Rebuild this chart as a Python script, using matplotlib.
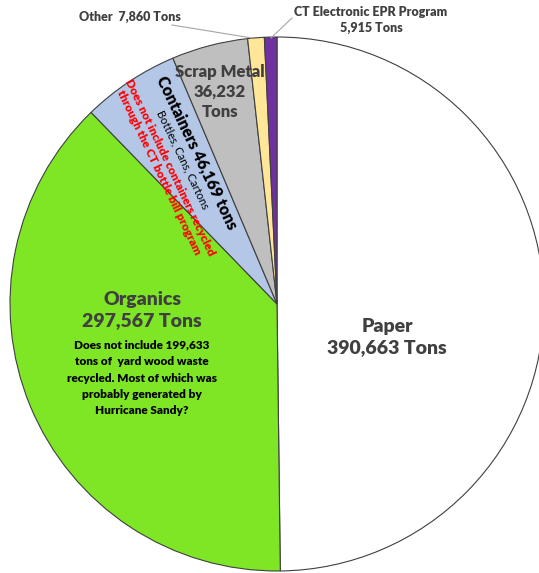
import matplotlib
matplotlib.use("Agg")
import matplotlib.pyplot as plt

# recycled tonnage by category (clockwise from top)
labels = ["Paper", "Organics", "Containers", "Scrap Metal", "Other", "CT Electronic EPR Program"]
tons = [390663, 297567, 46169, 36232, 7860, 5915]
colors = ["#FFFFFF", "#7FE626", "#B4C7E7", "#BFBFBF", "#FFE699", "#7030A0"]

W, H = 539, 573
plt.rcParams['font.family'] = ['Lato', 'DejaVu Sans']

fig = plt.figure(figsize=(W / 100, H / 100), dpi=100)
ax = fig.add_axes([0, 0, 1, 1])

ax.pie(tons, colors=colors, startangle=90, counterclock=False,
       center=(277, H - 304), radius=267,
       wedgeprops=dict(edgecolor="#404040", linewidth=0.8))
ax.set_xlim(0, W)
ax.set_ylim(0, H)
ax.set_aspect("equal")
ax.axis("off")

def y(py):
    return H - py

grey = "#404040"

# Paper
ax.text(387, y(337), "Paper\n390,663 Tons", ha="center", va="center",
        fontsize=14, fontweight="heavy", color=grey, linespacing=1.3)

# Organics
ax.text(142, y(310), "Organics\n297,567 Tons", ha="center", va="center",
        fontsize=14, fontweight="heavy", color=grey, linespacing=1.3)
ax.text(142, y(378), "Does not include 199,633\ntons of  yard wood waste\n"
        "recycled. Most of which was\nprobably generated by\nHurricane Sandy?",
        ha="center", va="center", fontsize=8.5, fontweight="heavy",
        color="black", linespacing=1.6)

# Scrap metal
ax.text(220, y(92), "Scrap Metal\n36,232\nTons", ha="center", va="center",
        fontsize=12, fontweight="heavy", color=grey, linespacing=1.3)

# Containers (rotated along the wedge)
rot = -64.5
ax.text(197, y(153), "Containers 46,169 tons", ha="center", va="center",
        rotation=rot, rotation_mode="anchor", fontsize=11.5,
        fontweight="heavy", color="black")
ax.text(183, y(160), "Bottles, Cans, Cartons", ha="center", va="center",
        rotation=rot, rotation_mode="anchor", fontsize=8,
        color="black")
ax.text(164, y(170), "Does not include containers recycled\nthrough the CT bottle bill program",
        ha="center", va="center", rotation=rot, rotation_mode="anchor",
        fontsize=8.5, fontweight="heavy", color="red", linespacing=1.1)

# small slices with leader lines
ax.text(130, y(17), "Other  7,860 Tons", ha="center", va="center",
        fontsize=9, fontweight="heavy", color=grey)
ax.plot([172, 252], [y(25), y(38)], color="#A6A6A6", lw=0.8)

ax.text(371, y(20), "CT Electronic EPR Program\n5,915 Tons", ha="center",
        va="center", fontsize=9, fontweight="heavy", color=grey,
        linespacing=1.35)
ax.plot([292, 271], [y(18), y(38)], color="#A6A6A6", lw=0.8)

fig.savefig("out.png", dpi=100)
